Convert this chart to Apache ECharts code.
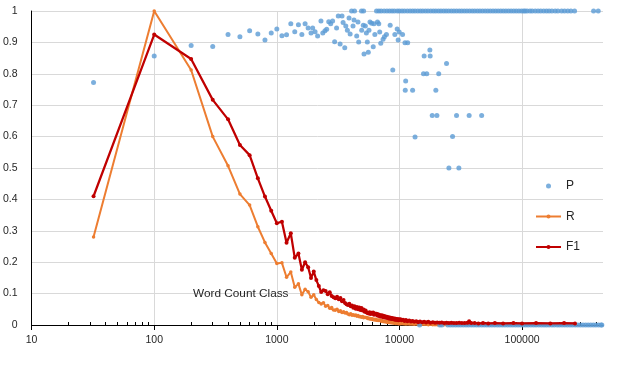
<!DOCTYPE html>
<html>
<head>
<meta charset="utf-8">
<script src="https://cdn.jsdelivr.net/npm/echarts@6/dist/echarts.min.js"></script>
<style>
html,body{margin:0;padding:0;background:#fff;}
#c{width:629px;height:374px;}
</style>
</head>
<body>
<div id="c"></div>
<script>
// ---- Data ----
// Word count classes for the R / F1 curves
const lineX = [32,
  100,200,300,400,500,600,700,800,900,1000,
  1100,1200,1300,1400,1500,1600,1700,1800,1900,2000,
  2100,2200,2300,2400,2500,2600,2700,2800,2900,3000,
  3100,3200,3300,3400,3500,3600,3700,3800,3900,4000,
  4100,4200,4300,4400,4500,4600,4700,4800,4900,5000,
  5100,5200,5300,5400,5500,5600,5700,5800,5900,6000,
  6100,6200,6300,6400,6500,6600,6700,6800,6900,7000,
  7100,7200,7300,7400,7500,7600,7700,7800,7900,8000,
  8100,8200,8300,8400,8500,8600,8700,8800,8900,9000,
  9100,9200,9300,9400,9500,9600,9700,9800,9900,10000,
  10200,10400,10700,11000,11300,11600,12000,12400,12800,13200,
  13700,14200,14700,15300,15900,16500,17200,17900,18700,19500,
  20300,21200,22100,23100,24200,25300,26500,27800,29200,30700,
  32300,34000,35800,37000,38500,41000,44000,48000,53000,60000,
  70000,85000,100000,130000,170000,220000,270000];

const rValues = [0.28,
  1.0,0.812,0.60,0.507,0.417,0.382,0.313,0.263,0.228,0.196,
  0.198,0.152,0.169,0.120,0.131,0.096,0.114,0.106,0.088,0.096,
  0.081,0.072,0.067,0.071,0.060,0.062,0.053,0.056,0.048,0.047,
  0.050,0.043,0.045,0.040,0.042,0.038,0.040,0.035,0.033,0.036,
  0.031,0.033,0.030,0.032,0.028,0.030,0.026,0.027,0.025,0.027,
  0.023,0.025,0.024,0.024,0.021,0.022,0.019,0.021,0.018,0.020,
  0.017,0.018,0.016,0.018,0.015,0.016,0.014,0.016,0.015,0.014,
  0.012,0.014,0.011,0.012,0.010,0.012,0.010,0.011,0.009,0.010,
  0.008,0.010,0.008,0.009,0.007,0.008,0.007,0.008,0.006,0.007,
  0.006,0.007,0.005,0.006,0.005,0.006,0.005,0.005,0.004,0.005,
  0.004,0.005,0.004,0.004,0.003,0.004,0.003,0.003,0.003,0.002,
  0.003,0.002,0.002,0.002,0.002,0.002,0.001,0.002,0.001,0.001,
  0.001,0.001,0.001,0.001,0.001,0.001,0.001,0.001,0.001,0.001,
  0.001,0.001,0.001,0.002,0.001,0.001,0.001,0.001,0.001,0.001,
  0.001,0.001,0.001,0.001,0.001,0.001,0.001];

const f1Values = [0.41,
  0.925,0.847,0.717,0.655,0.573,0.541,0.467,0.409,0.364,0.324,
  0.329,0.262,0.292,0.214,0.228,0.176,0.200,0.184,0.150,0.170,
  0.143,0.124,0.105,0.111,0.108,0.098,0.104,0.092,0.088,0.085,
  0.090,0.082,0.086,0.076,0.080,0.070,0.066,0.064,0.068,0.060,
  0.062,0.055,0.060,0.052,0.057,0.050,0.056,0.048,0.054,0.046,
  0.049,0.042,0.046,0.040,0.038,0.037,0.041,0.035,0.039,0.036,
  0.040,0.033,0.037,0.034,0.036,0.030,0.034,0.029,0.032,0.027,
  0.031,0.026,0.030,0.025,0.029,0.024,0.027,0.023,0.026,0.022,
  0.025,0.021,0.024,0.020,0.023,0.019,0.022,0.019,0.021,0.018,
  0.021,0.017,0.020,0.017,0.019,0.016,0.018,0.015,0.018,0.016,
  0.018,0.015,0.017,0.013,0.016,0.012,0.014,0.011,0.013,0.010,
  0.012,0.009,0.011,0.009,0.010,0.008,0.010,0.007,0.009,0.007,
  0.008,0.007,0.008,0.006,0.007,0.006,0.007,0.006,0.006,0.007,
  0.006,0.006,0.007,0.012,0.006,0.006,0.005,0.006,0.005,0.006,
  0.005,0.006,0.005,0.006,0.005,0.006,0.005];

// P (precision) points that are below 1
const pX = [32,100,200,300,400,500,600,700,800,900,1000,
  1100,1200,1300,1400,1500,1600,1700,1800,1900,1960,
  2050,2150,2290,2370,2470,2550,2650,2750,2850,2960,
  3070,3170,3280,3400,3470,3580,3650,3760,3880,3960,
  4180,4260,4480,4590,4650,4920,5070,5140,5270,5370,
  5470,5570,5640,5750,5930,6110,6190,6300,6620,6780,
  6900,7040,7350,7540,7830,8400,8820,9170,9580,9760,
  9950,10600,11090,11670,11240,11150,12800,13400,15700,16700,
  15900,17800,17700,18500,20200,19800,20900,24200,25300,27100,
  29200,30500,37000,46800];
const pY = [0.772,0.857,0.890,0.887,0.925,0.918,0.937,0.927,0.908,0.930,0.943,
  0.921,0.924,0.959,0.934,0.956,0.925,0.959,0.946,0.930,0.946,
  0.934,0.920,0.968,0.930,0.937,0.942,0.966,0.959,0.968,0.902,
  0.946,0.984,0.895,0.984,0.963,0.883,0.952,0.939,0.978,0.927,
  0.952,0.971,0.920,0.965,0.901,0.939,0.955,0.863,0.952,0.930,
  0.901,0.869,0.939,0.965,0.961,0.886,0.959,0.925,0.965,0.959,
  0.933,0.897,0.910,0.918,0.925,0.955,0.812,0.925,0.943,0.908,
  0.933,0.925,0.899,0.899,0.777,0.748,0.748,0.599,0.800,0.800,
  0.857,0.857,0.876,0.667,0.667,0.748,0.800,0.833,0.500,0.600,
  0.667,0.500,0.667,0.667];

// Classes where P = 1
const pOneX = [4070,4300,4900,5100,
  6500,6800,7100,7500,7900,8300,8700,9100,9600,10000,
  10500,11000,11600,12200,12800,13400,14100,14800,15500,16300,
  17100,18000,18900,19800,20800,21800,22900,24000,25200,26500,
  27800,29200,30700,32200,33800,35500,37300,39200,41100,43200,
  45300,47600,50000,52500,55100,57900,60800,63800,67000,70300,
  73800,77500,81400,85500,89700,94200,98900,
  103000,106000,110000,116000,121000,128000,135000,142000,150000,158000,
  166000,175000,186000,196000,210000,222000,236000,250000,268000,
  383000,418000];

// Classes where P = 0
const pZeroX = [14600,21300,22200,
  24800,26000,27300,28700,30100,31600,33200,34900,36600,38500,
  40400,42400,44500,46800,49100,51600,54100,56800,59700,62700,
  65800,69100,72500,76200,80000,84000,88200,92600,97200,102000,
  107000,112000,118000,124000,130000,137000,144000,151000,158000,166000,
  175000,183000,193000,202000,212000,223000,234000,246000,258000,271000,
  285000,299000,314000,330000,346000,363000,381000,400000,420000,441000,
  447000];

const yTicks = [0,0.1,0.2,0.3,0.4,0.5,0.6,0.7,0.8,0.9,1];
const xTicks = [10,100,1000,10000,100000];

// ---- Build series data ----
const pData = pX.map((x,i)=>[x,pY[i]])
  .concat(pOneX.map(x=>[x,1]))
  .concat(pZeroX.map(x=>[x,0]));
const rData = lineX.map((x,i)=>[x,rValues[i]]);
const f1Data = lineX.map((x,i)=>[x,f1Values[i]]);

const FONT = 'Liberation Sans';
const TXT = '#262626';

const chart = echarts.init(document.getElementById('c'), null, {renderer:'canvas'});
chart.setOption({
  animation:false,
  backgroundColor:'#fff',
  grid:{left:31,right:26,top:11,bottom:49,containLabel:false},
  legend:{
    orient:'vertical', left:530, top:175, padding:5,
    itemWidth:25, itemHeight:5, itemGap:18.5,
    textStyle:{fontFamily:FONT,fontSize:12,color:TXT},
    data:['P','R','F1']
  },
  xAxis:[{
    type:'log', logBase:10, min:10, max:457000,
    axisLine:{show:true,onZero:false,lineStyle:{color:'#000',width:1}},
    axisTick:{show:true,inside:false,length:5,lineStyle:{color:'#000'}},
    minorTick:{show:false},
    axisLabel:{fontFamily:FONT,fontSize:10.5,color:TXT,margin:10,showMaxLabel:false,
      formatter:v=> xTicks.indexOf(Math.round(v))>=0 ? String(Math.round(v)) : ''},
    splitLine:{show:true,showMinLine:false,showMaxLine:false,lineStyle:{color:'#D9D9D9',width:1}}
  },{
    type:'log', logBase:10, min:10, max:457000, position:'bottom', offset:0,
    axisLine:{show:false},
    axisTick:{show:false,inside:true},
    minorTick:{show:true,splitNumber:9,length:3,lineStyle:{color:'#000',width:1}},
    axisLabel:{show:false},
    splitLine:{show:false}
  }],
  yAxis:{
    type:'value', min:yTicks[0], max:yTicks[yTicks.length-1], interval:0.1,
    axisLine:{show:true,lineStyle:{color:'#000',width:1}},
    axisTick:{show:false},
    axisLabel:{fontFamily:FONT,fontSize:10.5,color:TXT,margin:14},
    splitLine:{show:true,lineStyle:{color:'#D9D9D9',width:1}}
  },
  graphic:[{
    type:'text', left:193, top:288, z:10,
    style:{text:'Word Count Class', fontFamily:FONT, fontSize:11.8, fill:TXT}
  }],
  series:[
    {name:'P', type:'scatter', data:pData, symbol:'circle', symbolSize:5,
     itemStyle:{color:'#5B9BD5'}, z:3},
    {name:'R', type:'line', data:rData, symbol:'circle', symbolSize:3.5, showSymbol:true,
     lineStyle:{color:'#ED7D31',width:2}, itemStyle:{color:'#ED7D31'}, z:2},
    {name:'F1', type:'line', data:f1Data, symbol:'circle', symbolSize:4, showSymbol:true,
     lineStyle:{color:'#C00000',width:2.25}, itemStyle:{color:'#C00000'}, z:4}
  ]
});
</script>
</body>
</html>
